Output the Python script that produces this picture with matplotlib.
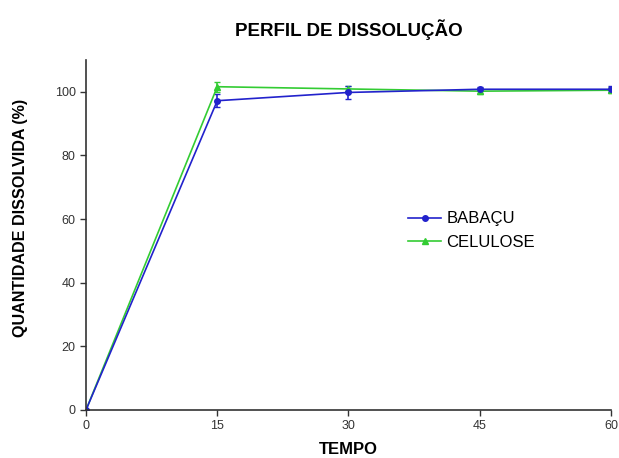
import matplotlib
matplotlib.use("Agg")
import matplotlib.pyplot as plt
from matplotlib.lines import Line2D

plt.rcParams['font.family'] = ['Liberation Sans', 'DejaVu Sans']

tempo = [0, 15, 30, 45, 60]
babacu = [0, 97.2, 99.8, 100.8, 100.8]
babacu_err = [0, 2.0, 2.0, 0.7, 1.0]
celulose = [0, 101.6, 100.9, 100.2, 100.5]
celulose_err = [0, 1.6, 0.8, 1.0, 1.0]

fig = plt.figure(figsize=(6.19, 4.58), dpi=100)
ax = fig.add_axes([0.139, 0.105, 0.848, 0.764])

green = '#33cc33'
blue = '#2222cc'
ax.errorbar(tempo, celulose, yerr=celulose_err, color=green, marker='^', markersize=4,
            linewidth=1.2, capsize=2.5, elinewidth=1.2)
ax.errorbar(tempo, babacu, yerr=babacu_err, color=blue, marker='o', markersize=4,
            linewidth=1.2, capsize=2.5, elinewidth=1.2)

ax.set_xlim(0, 60)
ax.set_ylim(0, 110)
ax.set_xticks([0, 15, 30, 45, 60])
ax.set_yticks([0, 20, 40, 60, 80, 100])
ax.spines['top'].set_visible(False)
ax.spines['right'].set_visible(False)
for s in ['left', 'bottom']:
    ax.spines[s].set_linewidth(1.2)
    ax.spines[s].set_color('#333333')
ax.tick_params(direction='out', length=4, width=1, labelsize=9, colors='#333333')

ax.set_xlabel('TEMPO', fontsize=12, fontweight='bold', labelpad=7)
ax.set_ylabel('QUANTIDADE DISSOLVIDA (%)', fontsize=11.6, fontweight='bold')
ax.yaxis.set_label_coords(-0.11, 0.55)
ax.set_title('PERFIL DE DISSOLUÇÃO', fontsize=13.5, fontweight='bold', pad=17)

handles = [Line2D([], [], color=blue, marker='o', markersize=4, linewidth=1.2),
           Line2D([], [], color=green, marker='^', markersize=4, linewidth=1.2)]
ax.legend(handles, ['BABAÇU', 'CELULOSE'], loc='upper left', bbox_to_anchor=(0.585, 0.61),
          frameon=False, fontsize=12, handlelength=2.0, handletextpad=0.3, labelspacing=0.5)

fig.savefig('out.png', dpi=100)
